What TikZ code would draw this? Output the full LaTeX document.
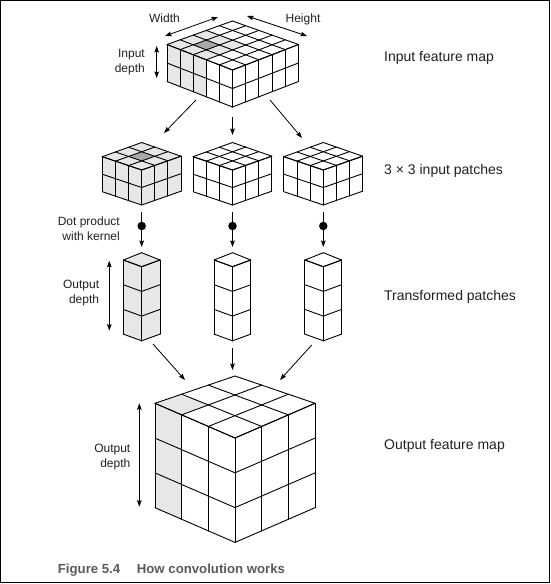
\documentclass[tikz,border=0pt]{standalone}
\usepackage{fontspec}
\setmainfont{Liberation Sans}
\usetikzlibrary{calc,arrows.meta}
\definecolor{lgrey}{HTML}{E6E7E8}
\definecolor{dgrey}{HTML}{A7A9AC}
\definecolor{txt}{HTML}{231F20}
\definecolor{capc}{HTML}{58595B}
% grid of a box: #1 name, #2 cells along F-L, #3 cells along F-R, #4 layers, #5 layer height
\newcommand\gridbox[5]{%
  \foreach \k in {0,...,#2}{\draw[boxline] ($(#1F)!\k/#2!(#1L)$) -- ++(0,#4*#5);}
  \foreach \k in {0,...,#3}{\draw[boxline] ($(#1F)!\k/#3!(#1R)$) -- ++(0,#4*#5);}
  \foreach \z in {0,...,#4}{\draw[boxline] ($(#1L)+(0,\z*#5)$) -- ($(#1F)+(0,\z*#5)$) -- ($(#1R)+(0,\z*#5)$);}
  \foreach \k in {0,...,#2}{\draw[boxline] ($(#1F)!\k/#2!(#1L)$) -- ($(#1R)!\k/#2!(#1T)$);}
  \foreach \k in {0,...,#3}{\draw[boxline] ($(#1F)!\k/#3!(#1R)$) -- ($(#1L)!\k/#3!(#1T)$);}
}
% top-face fill: #1 name, #2 nL, #3 nR, #4 i0, #5 i1, #6 j0, #7 j1, #8 colour
\newcommand\topfill[8]{%
  \path ($(#1F)!#4/#2!(#1L)$) coordinate (p0) ($(#1R)!#4/#2!(#1T)$) coordinate (q0)
        ($(#1F)!#5/#2!(#1L)$) coordinate (p1) ($(#1R)!#5/#2!(#1T)$) coordinate (q1);
  \fill[#8] ($(p0)!#6/#3!(q0)$) -- ($(p1)!#6/#3!(q1)$) -- ($(p1)!#7/#3!(q1)$) -- ($(p0)!#7/#3!(q0)$) -- cycle;
}
% side-face fills: #1 name, #2 n, #3 i0, #4 i1, #5 total height, #6 colour
\newcommand\leftfill[6]{%
  \path ($(#1F)!#3/#2!(#1L)$) coordinate (p0) ($(#1F)!#4/#2!(#1L)$) coordinate (p1);
  \fill[#6] (p0) -- (p1) -- ($(p1)+(0,#5)$) -- ($(p0)+(0,#5)$) -- cycle;
}
\newcommand\rightfill[6]{%
  \path ($(#1F)!#3/#2!(#1R)$) coordinate (p0) ($(#1F)!#4/#2!(#1R)$) coordinate (p1);
  \fill[#6] (p0) -- (p1) -- ($(p1)+(0,#5)$) -- ($(p0)+(0,#5)$) -- cycle;
}
\begin{document}
\begin{tikzpicture}[x=1pt,y=-1pt,
  boxline/.style={line width=0.9pt, line join=round, line cap=round, black},
  tip/.tip={Stealth[length=6.5pt,width=4.6pt,inset=1pt]},
  arr/.style={line width=0.8pt, -tip},
  darr/.style={line width=0.8pt, tip-tip},
  lab/.style={font=\fontsize{12}{15}\selectfont, text=txt, inner sep=0pt, align=right},
  tlab/.style={font=\fontsize{12}{15}\selectfont, text=txt, inner sep=0pt, anchor=base},
  rlab/.style={font=\fontsize{14}{17}\selectfont, text=txt, inner sep=0pt, anchor=base west},
  caplab/.style={font=\fontsize{13.2}{15}\selectfont\bfseries, text=capc, inner sep=0pt, anchor=base west},
  dotn/.style={circle, fill=black, inner sep=0pt, minimum size=8.5pt}]
\useasboundingbox (0,0) rectangle (551,584);
\draw[line width=1.4pt] (0.7,0.7) rectangle (549.3,582.6);

% ---------- box corners ----------
\coordinate (imF) at (232.5,70);  \coordinate (imL) at (167,44.5);
\coordinate (imR) at (298.5,44.5); \coordinate (imT) at (232.5,21);
\foreach \n/\dx in {p1/0, p2/90.8, p3/181.6}{
  \coordinate (\n F) at (141.7+\dx,170);   \coordinate (\n L) at (102.3+\dx,156.7);
  \coordinate (\n R) at (181+\dx,156.2);   \coordinate (\n T) at (141.7+\dx,142.5);
}
\foreach \n/\dx in {c1/0, c2/90.8, c3/181.6}{
  \coordinate (\n F) at (141.7+\dx,266.7); \coordinate (\n L) at (123.3+\dx,260);
  \coordinate (\n R) at (160+\dx,260);     \coordinate (\n T) at (141.7+\dx,252.7);
}
\coordinate (ocF) at (235,438);  \coordinate (ocL) at (155,403.3);
\coordinate (ocR) at (315,403.3); \coordinate (ocT) at (235,376);

% ---------- fills ----------
\topfill{im}{5}{5}{2}{5}{0}{3}{lgrey}
\topfill{im}{5}{5}{3}{4}{1}{2}{dgrey}
\leftfill{im}{5}{2}{5}{37}{lgrey}

\topfill{p1}{3}{3}{0}{3}{0}{3}{lgrey}
\topfill{p1}{3}{3}{1}{2}{1}{2}{dgrey}
\leftfill{p1}{3}{0}{3}{35}{lgrey}
\rightfill{p1}{3}{0}{3}{35}{lgrey}

\topfill{c1}{1}{1}{0}{1}{0}{1}{lgrey}
\leftfill{c1}{1}{0}{1}{74.1}{lgrey}
\rightfill{c1}{1}{0}{1}{74.1}{lgrey}

\topfill{oc}{3}{3}{2}{3}{0}{1}{lgrey}
\leftfill{oc}{3}{2}{3}{104.4}{lgrey}

% ---------- grids ----------
\gridbox{im}{5}{5}{2}{18.5}
\gridbox{p1}{3}{3}{2}{17.5}
\gridbox{p2}{3}{3}{2}{17.5}
\gridbox{p3}{3}{3}{2}{17.5}
\gridbox{c1}{1}{1}{3}{24.7}
\gridbox{c2}{1}{1}{3}{24.7}
\gridbox{c3}{1}{1}{3}{24.7}
\gridbox{oc}{3}{3}{3}{34.8}

% ---------- connectors ----------
\coordinate (a1s) at (196,100);   \coordinate (a1e) at (164,133);
\coordinate (a2s) at (232.5,117); \coordinate (a2e) at (232.5,135);
\coordinate (a3s) at (270,100);   \coordinate (a3e) at (302,138);
\draw[arr] (a1s) -- (a1e);
\draw[arr] (a2s) -- (a2e);
\draw[arr] (a3s) -- (a3e);

\foreach \n/\x in {1/141.7, 2/232.5, 3/323.3}{
  \coordinate (k\n s) at (\x,212);
  \coordinate (k\n e) at (\x,247);
  \draw[arr] (k\n s) -- (k\n e);
  \node[dotn] (dot\n) at (\x,226) {};
}

\coordinate (b1s) at (153,344);   \coordinate (b1e) at (185,380);
\coordinate (b2s) at (232.5,348); \coordinate (b2e) at (232.5,370);
\coordinate (b3s) at (311.7,345); \coordinate (b3e) at (280,380);
\draw[arr] (b1s) -- (b1e);
\draw[arr] (b2s) -- (b2e);
\draw[arr] (b3s) -- (b3e);

% dimension arrows
\coordinate (w1) at (165,36);  \coordinate (w2) at (218,17);
\coordinate (h1) at (247,16);  \coordinate (h2) at (307,36);
\draw[darr] (w1) -- (w2);
\draw[darr] (h1) -- (h2);
\coordinate (id1) at (156.7,46);  \coordinate (id2) at (156.7,78);
\draw[darr] (id1) -- (id2);
\coordinate (od1) at (109.3,260.7); \coordinate (od2) at (109.3,330.7);
\draw[darr] (od1) -- (od2);
\coordinate (bd1) at (139.3,403.3); \coordinate (bd2) at (139.3,506.7);
\draw[darr] (bd1) -- (bd2);

% ---------- labels ----------
\node[tlab] (width) at (164.5,22) {Width};
\node[tlab] (height) at (303,22) {Height};
\node[lab, anchor=east] (indepth) at (145,62) {Input\\depth};
\node[lab, anchor=east] (dotprod) at (120,228.8) {Dot product\\with kernel};
\node[lab, anchor=east] (outdepth1) at (99.3,293) {Output\\depth};
\node[lab, anchor=east] (outdepth2) at (130.5,457) {Output\\depth};

\node[rlab] (r1) at (384,61.7) {Input feature map};
\node[rlab] (r2) at (384,174.3) {3 × 3 input patches};
\node[rlab] (r3) at (384,300.7) {Transformed patches};
\node[rlab] (r4) at (384,449.3) {Output feature map};

\node[caplab] (cap1) at (57.7,573) {Figure 5.4};
\node[caplab] (cap2) at (136.7,573) {How convolution works};
\end{tikzpicture}
\end{document}
